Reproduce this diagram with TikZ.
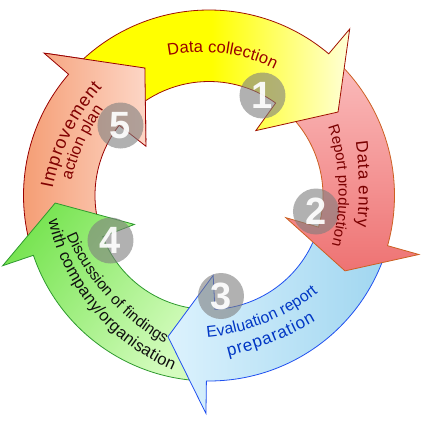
\documentclass[tikz,border=0pt]{standalone}
\usepackage{fontspec}
\setmainfont{Liberation Sans}
\usetikzlibrary{decorations.text}

\definecolor{yFillA}{HTML}{FFFF00}
\definecolor{yFillB}{HTML}{FFFFD8}
\definecolor{yLine}{HTML}{A01000}
\definecolor{yText}{HTML}{990000}
\definecolor{rFillA}{HTML}{FBBDBD}
\definecolor{rFillB}{HTML}{EE7373}
\definecolor{rLine}{HTML}{CC6022}
\definecolor{rText}{HTML}{7A0000}
\definecolor{bFillA}{HTML}{DCF2FD}
\definecolor{bFillB}{HTML}{A0D6F0}
\definecolor{bLine}{HTML}{2050F0}
\definecolor{bText}{HTML}{0036C4}
\definecolor{gFillA}{HTML}{78E452}
\definecolor{gFillB}{HTML}{D4FCBE}
\definecolor{gLine}{HTML}{2E9A2E}
\definecolor{gText}{HTML}{101010}
\definecolor{oFillA}{HTML}{F4996E}
\definecolor{oFillB}{HTML}{FDD6C6}
\definecolor{oLine}{HTML}{990000}
\definecolor{oText}{HTML}{800000}
\definecolor{numGray}{HTML}{7E7E7E}

\newcommand{\Ri}{114}
\newcommand{\Ro}{185.5}
% #1 tail angle, #2 outer base angle, #3 inner base angle, #4 tip angle, #5 tip radius
\newcommand{\CycleArrow}[5]{(#1:\Ro) arc[start angle=#1, end angle=#2, radius=\Ro] -- (#2:218) -- (#4:#5) -- (#3:80) -- (#3:\Ri) arc[start angle=#3, end angle=#1, radius=\Ri] -- cycle}
% #1 start angle, #2 end angle, #3 start radius, #4 end radius, #5 dip, #6 format, #7 text
\newcommand{\ArcText}[7]{\path[decorate, decoration={text along path, text align={fit to path}, text={|#6|#7}}] plot[domain=0:1, samples=24, variable=\x] ({(#1)+((#2)-(#1))*\x}:{(#3)+((#4)-(#3))*\x-4*(#5)*\x*(1-\x)});}

\tikzset{
  arrowbase/.style={line width=0.8pt, line join=miter},
  yArrow/.style={arrowbase, draw=yLine, left color=yFillA, right color=yFillB, middle color=yFillA},
  rArrow/.style={arrowbase, draw=rLine, top color=rFillA, bottom color=rFillB},
  bArrow/.style={arrowbase, draw=bLine, left color=bFillA, right color=bFillB},
  gArrow/.style={arrowbase, draw=gLine, top color=gFillA, bottom color=gFillB, shading angle=54},
  oArrow/.style={arrowbase, draw=oLine, left color=oFillA, right color=oFillB},
  numc/.style={circle, fill=numGray, fill opacity=0.6, text=white, text opacity=0.92, minimum size=46pt, inner sep=0pt, font=\fontsize{38}{38}\selectfont\bfseries}
}

\begin{document}
\begin{tikzpicture}[x=1pt, y=1pt]
\useasboundingbox (-209,-225.5) rectangle (212,195.5);
\fill[white] (-209,-225.5) rectangle (212,195.5);

\draw[oArrow] \CycleArrow{196}{139.2}{142}{116.7}{142.7};
\draw[gArrow] \CycleArrow{266.5}{198.8}{201.2}{182.8}{154};
\draw[bArrow] \CycleArrow{-18.5}{-90.8}{-87}{-106.2}{147};
\draw[rArrow] \CycleArrow{47.5}{-15.7}{-16.1}{-29}{155.5};
\draw[yArrow] \CycleArrow{137}{49.8}{54.2}{32.9}{153.7};
\begin{scope}
  \clip (0,0) -- (138.6:260) arc[start angle=138.6, end angle=100, radius=260] -- cycle;
  \draw[oArrow] \CycleArrow{196}{139.2}{142}{116.7}{142.7};
\end{scope}

\node[numc] (c1) at (53.5,100) {1};
\node[numc] (c2) at (107,-16) {2};
\node[numc] (c3) at (12,-100.5) {3};
\node[numc] (c4) at (-98.5,-45) {4};
\node[numc] (c5) at (-88.5,70) {5};

\ArcText{106.2}{62.6}{146}{142.5}{1.5}{\fontsize{16.5}{17}\selectfont\color{yText}}{Data collection}
\ArcText{20.2}{-11.9}{156.5}{151}{3.5}{\fontsize{17}{17}\selectfont\color{rText}}{Data entry}
\ArcText{30}{-22.1}{137.5}{132.5}{5}{\fontsize{15}{15}\selectfont\color{rText}}{Report production}
\ArcText{-90.8}{-41.6}{142}{146}{4.5}{\fontsize{15.8}{16}\selectfont\color{bText}}{Evaluation report}
\ArcText{-83.1}{-49.7}{162}{165}{3.5}{\fontsize{17}{17}\selectfont\color{bText}}{preparation}
\ArcText{195.6}{253.4}{148}{154.5}{7}{\fontsize{15.3}{15}\selectfont\color{gText}}{Discussion of findings}
\ArcText{188.8}{258.3}{162.5}{178.5}{7}{\fontsize{16.5}{16}\selectfont\color{gText}}{with company/organisation}
\ArcText{177.3}{134.6}{156.5}{152}{3}{\fontsize{18}{18}\selectfont\color{oText}}{Improvement}
\ArcText{173.8}{140.8}{138.5}{136}{2}{\fontsize{16}{16}\selectfont\color{oText}}{action plan}
\end{tikzpicture}
\end{document}
